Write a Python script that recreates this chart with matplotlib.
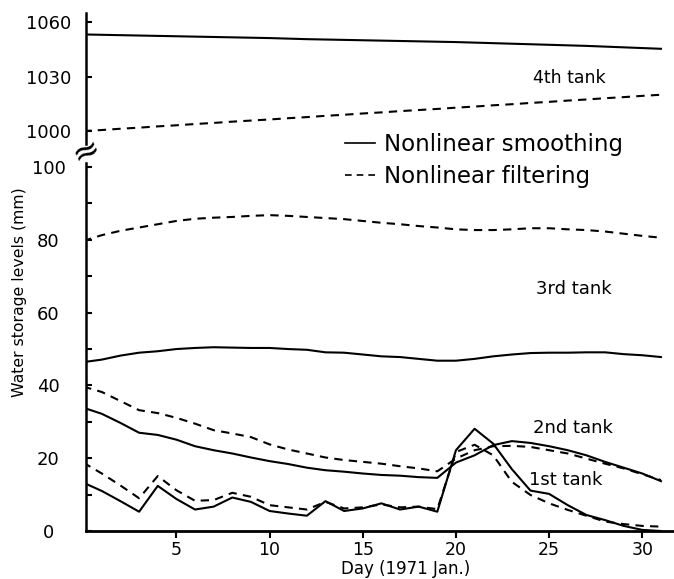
import numpy as np
import matplotlib
matplotlib.use("Agg")
import matplotlib.pyplot as plt

plt.rcParams['font.family'] = ['DejaVu Sans']

days = list(range(0, 32))

# 4th tank (upper panel)
tank4_smooth = [1053.2, 1053.0, 1052.8, 1052.6, 1052.4, 1052.2, 1052.0, 1051.8, 1051.6, 1051.4,
                1051.2, 1050.9, 1050.6, 1050.4, 1050.2, 1050.0, 1049.8, 1049.6, 1049.4, 1049.2,
                1049.0, 1048.7, 1048.4, 1048.1, 1047.8, 1047.5, 1047.2, 1046.9, 1046.5, 1046.1,
                1045.7, 1045.3]
tank4_filter = [1000.0, 1000.6, 1001.3, 1001.9, 1002.6, 1003.2, 1003.9, 1004.5, 1005.2, 1005.8,
                1006.4, 1007.1, 1007.7, 1008.4, 1009.0, 1009.7, 1010.3, 1011.0, 1011.6, 1012.2,
                1012.9, 1013.5, 1014.2, 1014.8, 1015.5, 1016.1, 1016.8, 1017.4, 1018.1, 1018.7,
                1019.4, 1020.0]

# 3rd tank
tank3_smooth = [46.4, 47.1, 48.2, 49.0, 49.4, 50.0, 50.3, 50.5, 50.4, 50.3,
                50.3, 50.0, 49.8, 49.1, 49.0, 48.5, 48.0, 47.8, 47.3, 46.8,
                46.8, 47.3, 48.0, 48.5, 48.9, 49.0, 49.0, 49.1, 49.1, 48.6,
                48.3, 47.8]
tank3_filter = [79.7, 81.3, 82.5, 83.4, 84.3, 85.2, 85.8, 86.1, 86.3, 86.6,
                86.8, 86.6, 86.3, 86.0, 85.7, 85.2, 84.7, 84.3, 83.8, 83.4,
                82.9, 82.7, 82.7, 82.9, 83.2, 83.2, 82.9, 82.7, 82.3, 81.7,
                81.1, 80.6]

# 2nd tank
tank2_smooth = [33.9, 32.2, 29.7, 27.0, 26.4, 25.1, 23.3, 22.2, 21.3, 20.2,
                19.2, 18.4, 17.4, 16.7, 16.3, 15.8, 15.4, 15.2, 14.8, 14.6,
                18.8, 20.8, 23.6, 24.7, 24.2, 23.3, 22.2, 20.8, 19.0, 17.4,
                15.8, 13.7]
tank2_filter = [39.7, 38.2, 35.7, 33.2, 32.4, 31.1, 29.5, 27.7, 26.8, 25.8,
                23.8, 22.4, 21.3, 20.2, 19.5, 19.0, 18.5, 17.8, 17.2, 16.4,
                19.9, 22.2, 23.3, 23.4, 23.1, 22.2, 21.3, 19.9, 18.5, 17.2,
                15.6, 14.0]

# 1st tank
tank1_smooth = [13.3, 11.0, 8.2, 5.3, 12.4, 8.8, 5.9, 6.7, 9.2, 8.0,
                5.5, 4.8, 4.2, 8.2, 5.5, 6.2, 7.6, 5.9, 6.7, 5.3,
                22.2, 28.1, 24.0, 17.0, 11.1, 10.2, 7.1, 4.4, 3.0, 1.4,
                0.3, 0.0]
tank1_filter = [18.8, 15.8, 12.5, 9.0, 15.1, 11.2, 8.3, 8.5, 10.5, 9.4,
                7.1, 6.5, 5.9, 8.0, 6.2, 6.5, 7.3, 6.5, 6.7, 6.0,
                21.7, 23.7, 20.8, 13.5, 9.9, 7.6, 5.8, 4.2, 2.6, 1.9,
                1.4, 1.2]

tank_labels = ['4th tank', '3rd tank', '2nd tank', '1st tank']

W, H = 674, 579
fig = plt.figure(figsize=(W/100, H/100), dpi=100)

def fx(px):
    return px / W

def fy(py):
    return 1 - py / H

left, right = 86, 674
ax_top = fig.add_axes([fx(left), fy(150), fx(right - left), (150 - 13) / H])
ax_bot = fig.add_axes([fx(left), fy(531), fx(right - left), (531 - 150) / H])

lw = 1.5
dash = (0, (4, 3))

ax_top.plot(days, tank4_smooth, color='black', lw=lw)
ax_top.plot(days, tank4_filter, color='black', lw=lw, linestyle=dash)

for s, f in [(tank3_smooth, tank3_filter), (tank2_smooth, tank2_filter),
             (tank1_smooth, tank1_filter)]:
    ax_bot.plot(days, s, color='black', lw=lw)
    ax_bot.plot(days, f, color='black', lw=lw, linestyle=dash)

xlim = (0.15, 31.7)
for ax in (ax_top, ax_bot):
    ax.set_xlim(*xlim)
    ax.patch.set_visible(False)
    ax.spines['top'].set_visible(False)
    ax.spines['right'].set_visible(False)
    ax.spines['left'].set_linewidth(1.8)
    ax.tick_params(axis='y', direction='in', length=4, width=1.5,
                   labelsize=13, pad=27)

ax_top.set_ylim(989.6, 1065)
ax_top.set_yticks([1000, 1030, 1060])
ax_top.spines['bottom'].set_visible(False)
ax_top.spines['left'].set_bounds(993, 1065)
ax_top.tick_params(axis='x', bottom=False, labelbottom=False)

ax_bot.set_ylim(0, 104.7)
ax_bot.set_yticks([0, 20, 40, 60, 80, 100])
ax_bot.set_yticks([10, 30, 50, 70, 90], minor=True)
ax_bot.tick_params(axis='y', which='minor', direction='in', length=4, width=1.5)
ax_bot.spines['left'].set_bounds(0, 101)
ax_bot.spines['bottom'].set_linewidth(2.0)
ax_bot.set_xticks([5, 10, 15, 20, 25, 30])
ax_bot.tick_params(axis='x', direction='out', length=5, width=1.5,
                   labelsize=12.5, pad=2)

for ax in (ax_top, ax_bot):
    for lab in ax.get_yticklabels():
        lab.set_horizontalalignment('center')

# break mark on the y axis
fig.text(fx(86), fy(151), '≈', fontsize=24, rotation=25,
         ha='center', va='center')

# tank labels
ax_top.text(26.1, 1029, tank_labels[0], fontsize=12.5, ha='center', va='center')
ax_bot.text(26.3, 66.6, tank_labels[1], fontsize=13, ha='center', va='center')
ax_bot.text(26.3, 28.2, tank_labels[2], fontsize=13, ha='center', va='center')
ax_bot.text(25.9, 14.0, tank_labels[3], fontsize=13, ha='center', va='center')

# legend
h1, = ax_bot.plot([], [], color='black', lw=1.2)
h2, = ax_bot.plot([], [], color='black', lw=1.2, linestyle=dash)
fig.legend([h1, h2], ['Nonlinear smoothing', 'Nonlinear filtering'],
           loc='upper left', bbox_to_anchor=(fx(345), fy(133)),
           frameon=False, fontsize=16.5, handlelength=1.3,
           handletextpad=0.4, labelspacing=0.4, borderpad=0,
           borderaxespad=0)

fig.text(fx(406), fy(578), 'Day (1971 Jan.)', fontsize=12,
         ha='center', va='bottom')
fig.text(fx(20), fy(292), 'Water storage levels (mm)', fontsize=11.3,
         ha='center', va='center', rotation=90)

fig.savefig('out.png', dpi=100)
